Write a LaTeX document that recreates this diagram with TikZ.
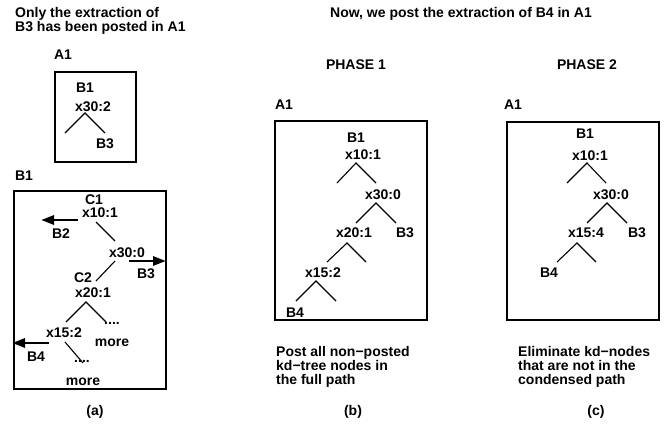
\documentclass[tikz,border=0pt]{standalone}
\usepackage{fontspec}
\setmainfont{Liberation Sans}
\usetikzlibrary{arrows.meta}

\begin{document}
\begin{tikzpicture}[x=1pt,y=-1pt,
  lbl/.style={inner sep=0pt,font=\fontsize{14}{14}\selectfont\bfseries},
  para/.style={lbl,align=left,anchor=north west},
  frame/.style={draw,line width=1.6pt},
  edge/.style={line width=1.1pt},
  push/.style={line width=2.8pt,-{Triangle[length=13pt,width=9pt]}}]
\useasboundingbox (0,0) rectangle (664,426);

% (a) before
\node[para] (onlytxt) at (15,7.5) {Only the extraction of\\B3 has been posted in A1};
\node[lbl] (aA1) at (63,55) {A1};
\draw[frame] (55,72) rectangle (136,162);
\node[lbl] (aB1) at (85,88) {B1};
\node[lbl] (ax302) at (93,107) {x30:2};
\coordinate (aap) at (85,113);
\coordinate (aapl) at (65,133);
\coordinate (aapr) at (105,133);
\draw[edge] (aapl) -- (aap) -- (aapr);
\node[lbl] (aB3) at (105,144) {B3};

\node[lbl] (bB1) at (24,176) {B1};
\draw[frame] (14,191) rectangle (166,389);
\node[lbl] (c1) at (94,200) {C1};
\node[lbl] (bx101) at (100,213) {x10:1};
\coordinate (b2from) at (78,220);
\coordinate (b2to) at (41,220);
\draw[push] (b2from) -- (b2to);
\node[lbl] (bB2) at (61,234) {B2};
\coordinate (e1a) at (96,222);
\coordinate (e1b) at (115,241);
\draw[edge] (e1a) -- (e1b);
\node[lbl] (bx300) at (127,253) {x30:0};
\coordinate (b3from) at (129,261);
\coordinate (b3to) at (166,261);
\draw[push] (b3from) -- (b3to);
\node[lbl] (bB3) at (146,274) {B3};
\coordinate (e2a) at (115,261);
\coordinate (e2b) at (96,281);
\draw[edge] (e2a) -- (e2b);
\node[lbl] (c2) at (83,278) {C2};
\node[lbl] (bx201) at (93,293) {x20:1};
\coordinate (bap) at (86,302);
\coordinate (bapl) at (66,322);
\coordinate (bapr) at (106,322);
\draw[edge] (bapl) -- (bap) -- (bapr);
\node[lbl] (dots1) at (112,323) {....};
\node[lbl] (more1) at (112,343) {more};
\node[lbl] (bx152) at (64,333) {x15:2};
\coordinate (b4from) at (49,343);
\coordinate (b4to) at (12,343);
\draw[push] (b4from) -- (b4to);
\node[lbl] (bB4) at (36,357) {B4};
\coordinate (e3a) at (65,342);
\coordinate (e3b) at (83,363);
\draw[edge] (e3a) -- (e3b);
\node[lbl] (dots2) at (82,361) {....};
\node[lbl] (more2) at (83,382) {more};
\node[lbl] (capa) at (95,412) {(a)};

\node[lbl] (nowtxt) at (461,14) {Now, we post the extraction of B4 in A1};

% (b) phase 1
\node[lbl] (ph1) at (356,65) {PHASE 1};
\node[lbl] (pA1) at (284,105) {A1};
\draw[frame] (275,121) rectangle (427,320);
\node[lbl] (pB1) at (356,138) {B1};
\node[lbl] (px101) at (363,155) {x10:1};
\coordinate (pa1) at (356,163);
\coordinate (pa1l) at (337,183);
\coordinate (pa1r) at (376,183);
\draw[edge] (pa1l) -- (pa1) -- (pa1r);
\node[lbl] (px300) at (383,195) {x30:0};
\coordinate (pa2) at (376,203);
\coordinate (pa2l) at (356,223);
\coordinate (pa2r) at (396,223);
\draw[edge] (pa2l) -- (pa2) -- (pa2r);
\node[lbl] (px201) at (354,233) {x20:1};
\node[lbl] (pB3) at (405,233) {B3};
\coordinate (pa3) at (347,243);
\coordinate (pa3l) at (327,262);
\coordinate (pa3r) at (366,262);
\draw[edge] (pa3l) -- (pa3) -- (pa3r);
\node[lbl] (px152) at (323,273) {x15:2};
\coordinate (pa4) at (316,281);
\coordinate (pa4l) at (296,301);
\coordinate (pa4r) at (336,301);
\draw[edge] (pa4l) -- (pa4) -- (pa4r);
\node[lbl] (pB4) at (295,313) {B4};
\node[para] (posttxt) at (276,346) {Post all non−posted\\kd−tree nodes in\\the full path};
\node[lbl] (capb) at (353,412) {(b)};

% (c) phase 2
\node[lbl] (ph2) at (587,65) {PHASE 2};
\node[lbl] (qA1) at (513,105) {A1};
\draw[frame] (507,122) rectangle (659,320);
\node[lbl] (qB1) at (585,134) {B1};
\node[lbl] (qx101) at (590,156) {x10:1};
\coordinate (qa1) at (587,163);
\coordinate (qa1l) at (567,183);
\coordinate (qa1r) at (606,183);
\draw[edge] (qa1l) -- (qa1) -- (qa1r);
\node[lbl] (qx300) at (611,195) {x30:0};
\coordinate (qa2) at (607,203);
\coordinate (qa2l) at (587,223);
\coordinate (qa2r) at (627,223);
\draw[edge] (qa2l) -- (qa2) -- (qa2r);
\node[lbl] (qx154) at (586,233) {x15:4};
\node[lbl] (qB3) at (637,233) {B3};
\coordinate (qa3) at (577,243);
\coordinate (qa3l) at (557,262);
\coordinate (qa3r) at (596,262);
\draw[edge] (qa3l) -- (qa3) -- (qa3r);
\node[lbl] (qB4) at (549,273) {B4};
\node[para] (elimtxt) at (518,346) {Eliminate kd−nodes\\that are not in the\\condensed path};
\node[lbl] (capc) at (596,412) {(c)};
\end{tikzpicture}
\end{document}
